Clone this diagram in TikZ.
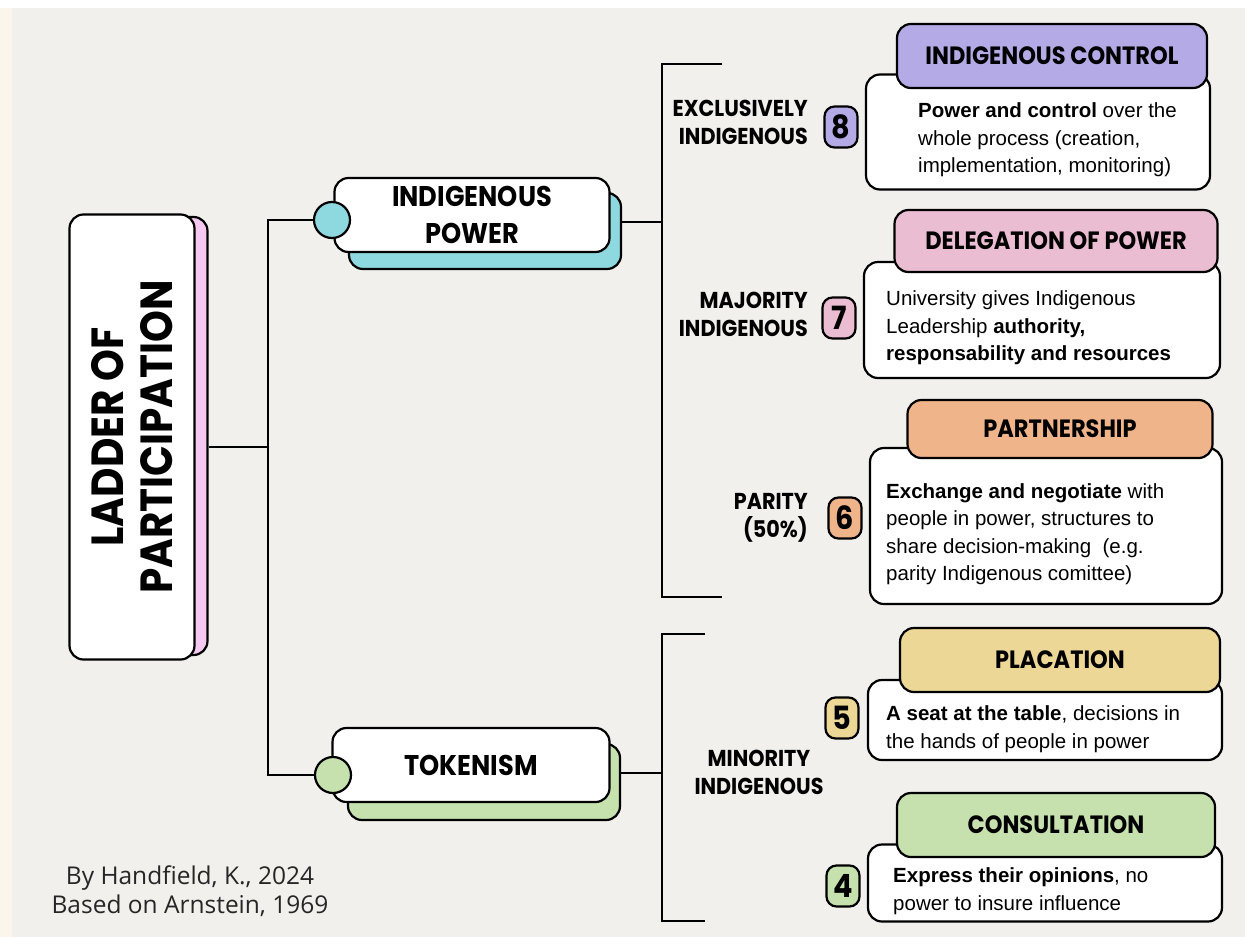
\documentclass[tikz,border=0pt]{standalone}
\usepackage{fontspec}
\setmainfont{Liberation Sans}
\newfontfamily\handfont[FakeStretch=0.9]{Poppins}
\newfontfamily\creditfont{Open Sans}
\definecolor{paper}{RGB}{241,240,236}
\definecolor{cream}{RGB}{251,245,235}
\definecolor{titlepink}{RGB}{245,200,242}
\definecolor{powerteal}{RGB}{142,217,223}
\definecolor{tokgreen}{RGB}{198,225,174}
\definecolor{ctrlpurple}{RGB}{180,170,229}
\definecolor{delpink}{RGB}{235,189,211}
\definecolor{partorange}{RGB}{240,180,139}
\definecolor{placyellow}{RGB}{237,215,150}
\definecolor{consgreen}{RGB}{198,225,174}
\begin{document}
\begin{tikzpicture}[x=1pt, y=-1pt,
        whitebox/.style={draw, line width=2.2, rounded corners=14, fill=white},
        backbox/.style={draw, line width=2.2, rounded corners=14},
        dot/.style={circle, draw, line width=2.2, minimum size=36, inner sep=0},
        wire/.style={line width=2},
        treefont/.style={font=\handfont\bfseries\fontsize{28.5}{37}\selectfont},
        headbox/.style={draw, line width=2.2, rounded corners=14, font=\handfont\bfseries\fontsize{25}{28}\selectfont},
        bodybox/.style={draw, line width=2.2, rounded corners=14, fill=white},
        bodytext/.style={anchor=west, align=left, inner sep=0, font=\fontsize{20.5}{27.5}\selectfont},
        badge/.style={draw, line width=2.2, rounded corners=10, minimum width=33, minimum height=41, inner sep=0, font=\handfont\bfseries\fontsize{32}{32}\selectfont},
        side/.style={align=right, anchor=east, inner sep=0, font=\handfont\bfseries\fontsize{23}{28}\selectfont}
    ]
        % paper
        \fill[paper] (0,0) rectangle (1245,937);
        \fill[cream] (0,0) rectangle (12,937);
        \fill[white] (0,0) rectangle (1245,8);
        \useasboundingbox (0,0) rectangle (1245,937);

        % title
        \node[backbox, fill=titlepink, minimum width=125, minimum height=438] (titleback) at (145,436) {};
        \node[whitebox, rotate=90, minimum width=445, minimum height=125, align=center,
              font=\handfont\bfseries\fontsize{45}{49}\selectfont] (title) at (132,437) {LADDER OF\\PARTICIPATION};

        % indigenous power
        \node[backbox, fill=powerteal, minimum width=272, minimum height=76] (powerback) at (485,231) {};
        \node[whitebox, treefont, align=center, minimum width=275, minimum height=74] (power) at (472,215) {INDIGENOUS\\POWER};
        \node[dot, fill=powerteal] (powerdot) at (332,220) {};

        % tokenism
        \node[backbox, fill=tokgreen, minimum width=272, minimum height=76] (tokback) at (484,782) {};
        \node[whitebox, treefont, minimum width=277, minimum height=74] (token) at (471,765) {TOKENISM};
        \node[dot, fill=tokgreen] (tokdot) at (333,775) {};

        % tree
        \coordinate (trunk) at (268,447);
        \draw[wire] (titleback.east |- trunk) -- (trunk);
        \draw[wire] (powerdot.west) -| (trunk);
        \draw[wire] (tokdot.west) -| (trunk);

        % brackets
        \coordinate (powerspine) at (662,222);
        \coordinate (powertop) at (722,64);
        \coordinate (powerbot) at (722,597);
        \draw[wire] (powerback.east |- powerspine) -- (powerspine);
        \draw[wire] (powertop) -| (powerspine) |- (powerbot);
        \coordinate (tokspine) at (662,773);
        \coordinate (toktop) at (705,634);
        \coordinate (tokbot) at (705,921);
        \draw[wire] (tokback.east |- tokspine) -- (tokspine);
        \draw[wire] (toktop) -| (tokspine) |- (tokbot);

        % 8
        \node[bodybox, minimum width=344, minimum height=115] (body8) at (1038,132) {};
        \node[headbox, fill=ctrlpurple, minimum width=310, minimum height=64] (head8) at (1052,56) {INDIGENOUS CONTROL};
        \node[bodytext] (text8) at (918,140) {\textbf{Power and control} over the\\whole process (creation,\\implementation, monitoring)};
        \node[badge, fill=ctrlpurple] (badge8) at (841,127) {8};
        \node[side] (side8) at (808,122) {EXCLUSIVELY\\INDIGENOUS};

        % 7
        \node[bodybox, minimum width=356, minimum height=116] (body7) at (1042,320) {};
        \node[headbox, fill=delpink, minimum width=323, minimum height=62] (head7) at (1056,241) {DELEGATION OF POWER};
        \node[bodytext] (text7) at (886,328) {University gives Indigenous\\Leadership \textbf{authority,}\\\textbf{responsability and resources}};
        \node[badge, fill=delpink] (badge7) at (839,318) {7};
        \node[side] (side7) at (808,314) {MAJORITY\\INDIGENOUS};

        % 6
        \node[bodybox, minimum width=352, minimum height=156] (body6) at (1046,526) {};
        \node[headbox, fill=partorange, minimum width=305, minimum height=58] (head6) at (1060,429) {PARTNERSHIP};
        \node[bodytext] (text6) at (886,534) {\textbf{Exchange and negotiate} with\\people in power, structures to\\share decision-making\ \ (e.g.\\parity Indigenous comittee)};
        \node[badge, fill=partorange] (badge6) at (845,518) {6};
        \node[side] (side6) at (808,518) {PARITY\\(50\%)};

        % 5
        \node[bodybox, minimum width=354, minimum height=80] (body5) at (1045,720) {};
        \node[headbox, fill=placyellow, minimum width=320, minimum height=64] (head5) at (1060,660) {PLACATION};
        \node[bodytext] (text5) at (886,729) {\textbf{A seat at the table}, decisions in\\the hands of people in power};
        \node[badge, fill=placyellow] (badge5) at (842,718) {5};

        % 4
        \node[bodybox, minimum width=354, minimum height=77] (body4) at (1045,883) {};
        \node[headbox, fill=consgreen, minimum width=318, minimum height=64] (head4) at (1056,825) {CONSULTATION};
        \node[bodytext] (text4) at (893,891) {\textbf{Express their opinions}, no\\power to insure influence};
        \node[badge, fill=consgreen] (badge4) at (843,886) {4};
        \node[side, anchor=center, align=center] (side45) at (759,772) {MINORITY\\INDIGENOUS};

        % credit
        \node[align=center, text=black!85, font=\creditfont\fontsize{24.5}{29}\selectfont] (credit) at (190,891) {By Handfield, K., 2024\\Based on Arnstein, 1969};
    \end{tikzpicture}
\end{document}
